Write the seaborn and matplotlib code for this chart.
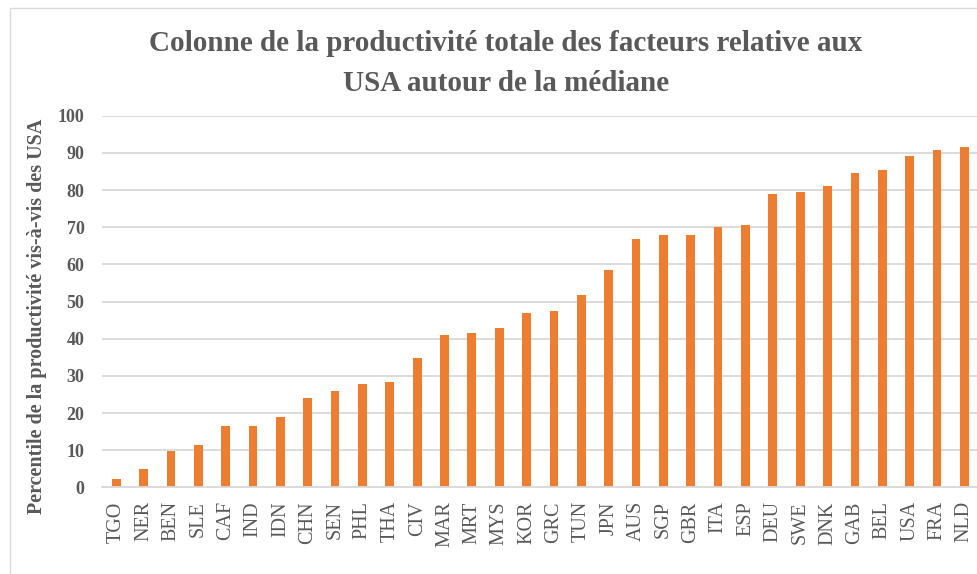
import matplotlib
matplotlib.use("Agg")
import matplotlib.pyplot as plt
import seaborn as sns
import pandas as pd

# Country codes, sorted by percentile
countries = ["TGO", "NER", "BEN", "SLE", "CAF", "IND", "IDN", "CHN", "SEN", "PHL",
             "THA", "CIV", "MAR", "MRT", "MYS", "KOR", "GRC", "TUN", "JPN", "AUS",
             "SGP", "GBR", "ITA", "ESP", "DEU", "SWE", "DNK", "GAB", "BEL", "USA",
             "FRA", "NLD"]
percentiles = [2.3, 5.0, 9.7, 11.4, 16.5, 16.5, 18.9, 24.1, 25.9, 27.9,
               28.3, 34.8, 41.0, 41.5, 43.0, 47.0, 47.5, 51.8, 58.6, 66.9,
               67.8, 67.8, 70.1, 70.6, 78.8, 79.5, 81.0, 84.6, 85.5, 89.1,
               90.8, 91.7]
y_ticks = list(range(0, 101, 10))

df = pd.DataFrame({"country": countries, "pct": percentiles})

sns.set_theme(style="whitegrid")
plt.rcParams["font.family"] = ["Liberation Serif", "DejaVu Serif"]

text_grey = "#595959"
bar_orange = "#ED7D31"

fig = plt.figure(figsize=(9.78, 5.74), dpi=100)
ax = fig.add_axes([0.1048, 0.151, 0.8952, 0.6474])

sns.barplot(data=df, x="country", y="pct", color=bar_orange, width=0.32,
            saturation=1, linewidth=0, ax=ax)

ax.set_ylim(0, 100)
ax.set_xlim(-0.5, len(countries) - 0.5)
ax.set_yticks(y_ticks)
ax.set_yticklabels([str(t) for t in y_ticks], fontsize=13, fontweight="bold",
                   color=text_grey)
ax.tick_params(axis="x", labelrotation=90, labelsize=14.5, labelcolor=text_grey,
               pad=10, length=0)
ax.tick_params(axis="y", pad=13, length=0)
ax.grid(axis="y", color="#D9D9D9", linewidth=1.3)
ax.grid(axis="x", visible=False)
for side in ["top", "right", "left"]:
    ax.spines[side].set_visible(False)
ax.spines["bottom"].set_color("#D9D9D9")
ax.spines["bottom"].set_linewidth(1.3)
ax.set_axisbelow(True)

ax.set_xlabel("")
ax.set_ylabel("Percentile de la productivité vis-à-vis des USA", fontsize=14.5,
              fontweight="bold", color=text_grey)
ax.yaxis.set_label_coords(-0.063, 0.46)

fig.text(0.517, 0.925, "Colonne de la productivité totale des facteurs relative aux",
         ha="center", va="center", fontsize=21, fontweight="bold", color=text_grey)
fig.text(0.517, 0.855, "USA autour de la médiane",
         ha="center", va="center", fontsize=21, fontweight="bold", color=text_grey)

# light frame around the chart area
frame = plt.Rectangle((10 / 978, -0.1), 1.2, 1.1 - 8 / 574, transform=fig.transFigure,
                      fill=False, edgecolor="#D9D9D9", linewidth=1)
fig.add_artist(frame)

fig.savefig("out.png", dpi=100)
